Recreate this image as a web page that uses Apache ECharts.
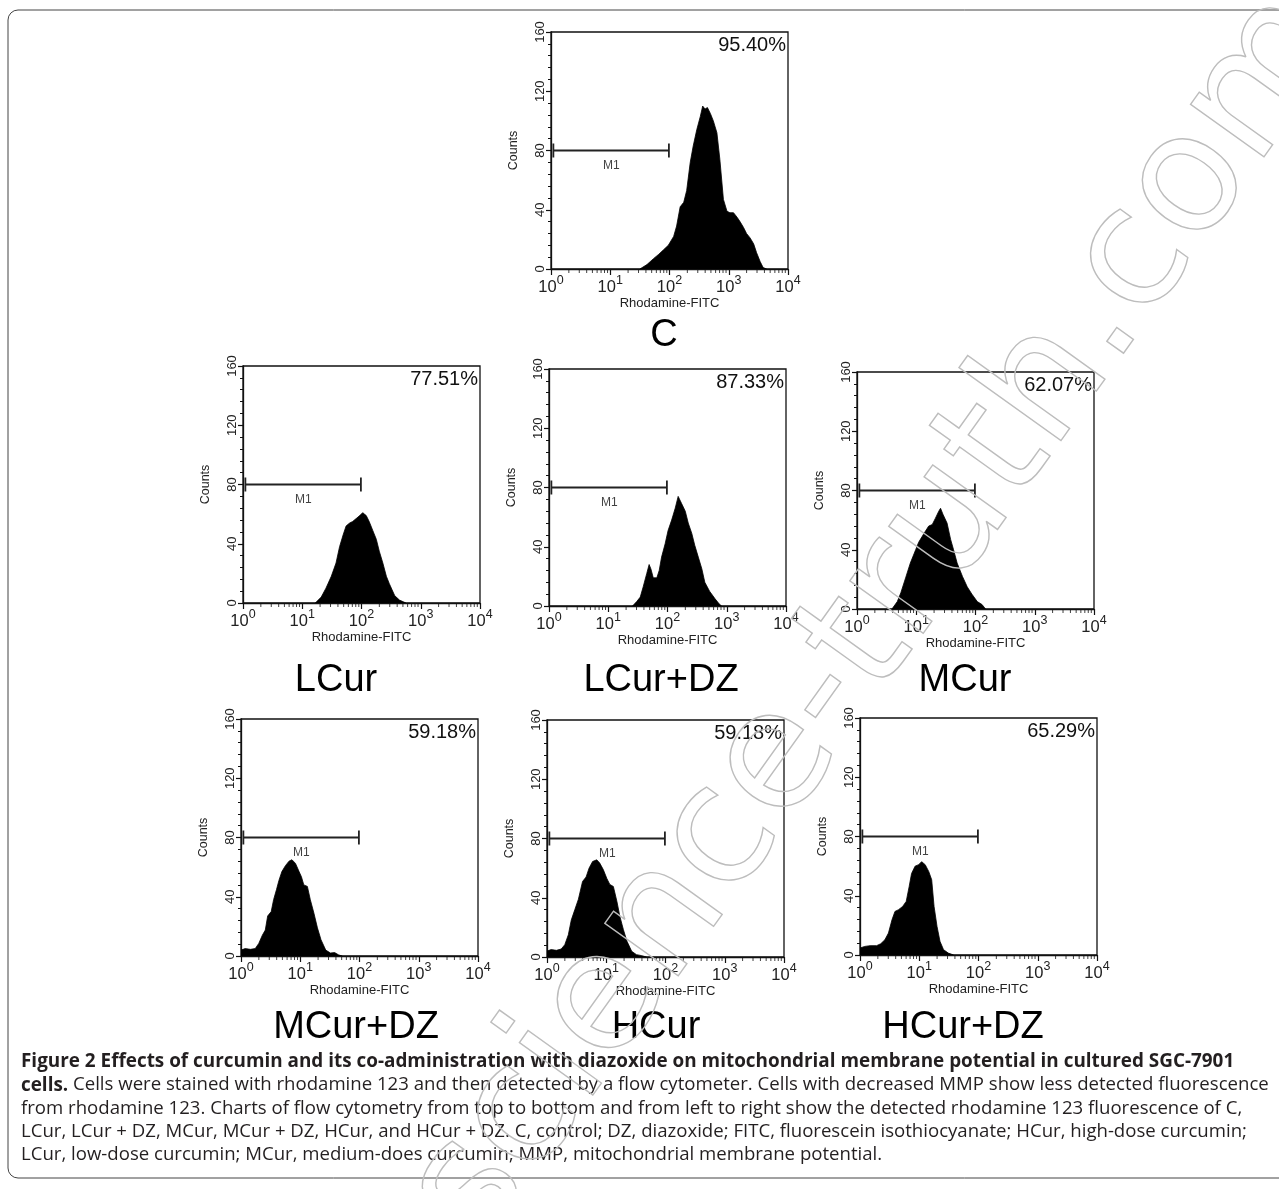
<!DOCTYPE html>
<html>
<head>
<meta charset="utf-8">
<title>Figure 2 - rhodamine 123 flow cytometry</title>
<script src="https://cdn.jsdelivr.net/npm/echarts@6/dist/echarts.min.js"></script>
<style>
html, body { margin: 0; padding: 0; background: #fff; }
#main { width: 1279px; height: 1189px; }
</style>
</head>
<body>
<div id="main"></div>
<script>
/************
 * Figure 2 : 7 x 流式直方图 (Rhodamine-FITC)
 * x = 荧光强度, 按 decade (log10) 读出, 0..4 => 10^0 .. 10^4
 * y = Counts
 * ************/

// panel names + M1 percent
var panelNames   = ["C", "LCur", "LCur+DZ", "MCur", "MCur+DZ", "HCur", "HCur+DZ"];
var panelPercent = ["95.40%", "77.51%", "87.33%", "62.07%", "59.18%", "59.18%", "65.29%"];

// histogram outlines, x in decades (log10 of intensity)
var C_logX      = [1.50,1.62,1.73,1.82,1.90,1.98,2.07,2.12,2.18,2.24,2.29,2.35,2.40,2.46,2.52,2.56,2.60,2.64,2.69,2.74,2.80,2.85,2.91,2.97,3.02,3.08,3.14,3.19,3.25,3.30,3.36,3.42,3.47,3.53,3.58,3.64];
var C_counts    = [0,3,7,10,13,16,22,29,42,45,53,72,83,94,103,110,108,109,105,100,92,74,47,39,38,38,35,32,28,24,21,17,11,5,1,0];

var LCur_logX   = [1.22,1.32,1.40,1.49,1.57,1.63,1.69,1.74,1.80,1.85,1.91,1.97,2.02,2.08,2.13,2.19,2.25,2.30,2.36,2.42,2.47,2.56,2.64,2.75];
var LCur_counts = [0,4,10,18,27,38,46,52,54,55,57,59,61,59,55,49,43,35,27,18,13,5,2,0];

var LCurDZ_logX   = [1.41,1.48,1.54,1.59,1.65,1.69,1.72,1.76,1.82,1.86,1.90,1.96,2.01,2.07,2.13,2.18,2.24,2.30,2.35,2.41,2.46,2.52,2.58,2.63,2.71,2.80,2.86,2.91];
var LCurDZ_counts = [0,3,6,13,22,28,25,19,19,24,33,42,51,58,66,74,69,64,56,49,41,33,25,16,10,5,2,0];

var MCur_logX   = [0.59,0.68,0.74,0.82,0.90,0.99,1.04,1.13,1.21,1.27,1.32,1.38,1.41,1.45,1.52,1.58,1.63,1.69,1.78,1.86,1.94,2.03,2.11,2.17];
var MCur_counts = [0,5,11,21,31,40,45,51,56,57,61,66,68,64,58,47,40,31,22,15,10,5,3,0];

var MCurDZ_logX   = [0.00,0.07,0.16,0.24,0.30,0.36,0.41,0.45,0.51,0.55,0.60,0.64,0.69,0.75,0.81,0.86,0.92,0.98,1.02,1.06,1.12,1.17,1.23,1.29,1.35,1.43,1.51,1.58,1.65,1.71];
var MCurDZ_counts = [4,5,4.5,5,8.5,14,17.5,27,30,38,45,51,57,61,64,65,62.5,57,53.5,48,47,38,29,19,11,4,2,2.3,0.7,0];

var HCur_logX   = [0.00,0.07,0.16,0.24,0.30,0.36,0.41,0.47,0.53,0.60,0.66,0.71,0.77,0.84,0.89,0.95,1.01,1.06,1.12,1.18,1.23,1.29,1.35,1.43,1.51,1.60,1.68];
var HCur_counts = [4,5,4.5,5.4,8.3,15,25,32,39,51,54,60,64.5,65.6,63.4,59,53,49,47.6,37.5,27.4,18.4,10.6,3.8,1.6,0.9,0];

var HCurDZ_logX   = [0.00,0.08,0.17,0.28,0.35,0.42,0.48,0.54,0.59,0.65,0.72,0.78,0.83,0.87,0.93,0.99,1.04,1.10,1.16,1.21,1.25,1.30,1.35,1.41,1.49,1.58];
var HCurDZ_counts = [4.7,5.8,6.3,6.3,7.6,10.3,14.8,23.8,29.4,30.6,32.8,36.2,46.3,55,60,61,63,61,56.4,50.8,32.8,19.3,9.2,3.6,1.3,0];

var panelLogX   = [C_logX, LCur_logX, LCurDZ_logX, MCur_logX, MCurDZ_logX, HCur_logX, HCurDZ_logX];
var panelCounts = [C_counts, LCur_counts, LCurDZ_counts, MCur_counts, MCurDZ_counts, HCur_counts, HCurDZ_counts];

// M1 gate (decades) and its level
var gateRange  = [0.04, 1.99];
var gateLevel  = 80;
var gateLabelX = 1.02;
var gateLabelY = 70;

// axis ticks
var yTicks    = [0, 40, 80, 120, 160];
var xDecades  = [0, 1, 2, 3, 4];
var minorMult = [2, 3, 4, 5, 6, 7, 8, 9];   // 对数轴次刻度

/****** layout (px) ******/
var plotW = 237, plotH = 237;
var panelBox = [[551, 32], [243, 366], [549, 369], [857, 372], [241, 719], [547, 720], [860, 718]];
var nameBox  = [[664, 336], [336, 681], [661, 681], [965, 681], [356, 1028], [656, 1028], [963, 1028]];

var FONT = "'Liberation Sans', Arial, Helvetica, sans-serif";

var grids = [], xAxes = [], yAxes = [], series = [], graphics = [];

// log minor tick positions (in decades)
var minorX = [];
for (var d = 0; d < xDecades.length - 1; d++) {
	for (var m = 0; m < minorMult.length; m++) {
		minorX.push([xDecades[d] + Math.log(minorMult[m]) / Math.LN10, 0]);
	}
}

for (var i = 0; i < panelNames.length; i++) {
	var boxL = panelBox[i][0], boxT = panelBox[i][1];   // 注意: 不能用全局 var top

	grids.push({
		left: boxL, top: boxT, width: plotW, height: plotH,
		show: true, borderColor: "#111", borderWidth: 1.3, backgroundColor: "transparent"
	});

	xAxes.push({
		gridIndex: i, type: "value",
		min: xDecades[0], max: xDecades[xDecades.length - 1], interval: 1,
		name: "Rhodamine-FITC", nameLocation: "middle", nameGap: 24,
		nameTextStyle: { fontFamily: FONT, fontSize: 13, color: "#222" },
		axisLine: { show: true, onZero: false, lineStyle: { color: "#111", width: 1.3 } },
		axisTick: { show: true, length: 6, lineStyle: { color: "#111", width: 1.2 } },
		splitLine: { show: false },
		axisLabel: {
			show: true, margin: 5, showMinLabel: true, showMaxLabel: true,
			formatter: function (v) {
				return "{b|10}{s|" + Math.round(v) + "}";
			},
			rich: {
				b: { fontFamily: FONT, fontSize: 16.5, color: "#222", lineHeight: 22, verticalAlign: "bottom" },
				s: { fontFamily: FONT, fontSize: 12.5, color: "#222", lineHeight: 22, verticalAlign: "top" }
			}
		}
	});

	yAxes.push({
		gridIndex: i, type: "value",
		min: yTicks[0], max: yTicks[yTicks.length - 1], interval: yTicks[1] - yTicks[0],
		name: "Counts", nameLocation: "middle", nameGap: 31, nameRotate: 90,
		nameTextStyle: { fontFamily: FONT, fontSize: 12.5, color: "#222" },
		axisLine: { show: true, lineStyle: { color: "#111", width: 1.3 } },
		axisTick: { show: true, length: 5, lineStyle: { color: "#111", width: 1.2 } },
		minorTick: { show: true, splitNumber: 5, length: 3, lineStyle: { color: "#111", width: 1 } },
		splitLine: { show: false },
		minorSplitLine: { show: false },
		axisLabel: { show: true, rotate: 90, margin: 4, fontFamily: FONT, fontSize: 13, color: "#222" }
	});

	// 直方图
	var hist = [];
	for (var k = 0; k < panelLogX[i].length; k++) {
		hist.push([panelLogX[i][k], panelCounts[i][k]]);
	}
	series.push({
		type: "line", xAxisIndex: i, yAxisIndex: i, data: hist,
		showSymbol: false, smooth: false, silent: true, z: 3,
		lineStyle: { color: "#000", width: 0.8 },
		areaStyle: { color: "#000", opacity: 1 }
	});

	// x minor ticks
	series.push({
		type: "scatter", xAxisIndex: i, yAxisIndex: i, data: minorX,
		symbol: "rect", symbolSize: [1, 4], symbolOffset: [0, 2], silent: true, z: 2,
		itemStyle: { color: "#111" }
	});

	// M1 gate bar
	series.push({
		type: "line", xAxisIndex: i, yAxisIndex: i,
		data: [[gateRange[0], gateLevel], [gateRange[1], gateLevel]],
		symbol: "rect", symbolSize: [1.8, 14], showSymbol: true, silent: true, z: 4,
		itemStyle: { color: "#222" },
		lineStyle: { color: "#222", width: 1.8 }
	});

	// M1 text
	series.push({
		type: "scatter", xAxisIndex: i, yAxisIndex: i,
		data: [[gateLabelX, gateLabelY]],
		symbolSize: 1, silent: true, z: 5,
		itemStyle: { color: "rgba(0,0,0,0)" },
		label: { show: true, position: "inside", formatter: "M1", fontFamily: FONT, fontSize: 12, color: "#111" }
	});

	// percent (top right in box)
	graphics.push({
		type: "text", x: boxL + plotW - 2, y: boxT + 3, z: 10,
		style: { text: panelPercent[i], fontFamily: FONT, fontSize: 20, fill: "#111", align: "right", verticalAlign: "top" }
	});

	// sample name
	graphics.push({
		type: "text", x: nameBox[i][0], y: nameBox[i][1], z: 10,
		style: { text: panelNames[i], fontFamily: FONT, fontSize: 38, fill: "#000", align: "center", verticalAlign: "middle" }
	});
}

/****** caption ******/
var captionLines = [
	"{b|Figure 2 Effects of curcumin and its co-administration with diazoxide on mitochondrial membrane potential in cultured SGC-7901}",
	"{b|cells.}{r| Cells were stained with rhodamine 123 and then detected by a flow cytometer. Cells with decreased MMP show less detected fluorescence}",
	"{r|from rhodamine 123. Charts of flow cytometry from top to bottom and from left to right show the detected rhodamine 123 fluorescence of C,}",
	"{r|LCur, LCur + DZ, MCur, MCur + DZ, HCur, and HCur + DZ. C, control; DZ, diazoxide; FITC, fluorescein isothiocyanate; HCur, high-dose curcumin;}",
	"{r|LCur, low-dose curcumin; MCur, medium-does curcumin; MMP, mitochondrial membrane potential.}"
];
var CAP_FONT = "'Open Sans', 'Noto Sans', Arial, sans-serif";
for (var j = 0; j < captionLines.length; j++) {
	graphics.push({
		type: "text", x: 21, y: 1062 + j * 23.2, z: 10,
		style: {
			text: captionLines[j], verticalAlign: "middle",
			rich: {
				b: { fontFamily: CAP_FONT, fontSize: 18.9, fontWeight: "bold", fill: "#231f20" },
				r: { fontFamily: CAP_FONT, fontSize: 18.6, fill: "#231f20" }
			}
		}
	});
}

// frame
graphics.push({
	type: "rect", z: 1, silent: true,
	shape: { x: 8, y: 10, width: 1300, height: 1168, r: 10 },
	style: { fill: "none", stroke: "#444", lineWidth: 1 }
});

// watermark
graphics.push({
	type: "text", x: 880, y: 620, rotation: 0.95, z: 20, silent: true,
	style: {
		text: "science-truth.com", fontFamily: "'DejaVu Sans', sans-serif", fontSize: 165,
		fill: "none", stroke: "#bdbdbd", lineWidth: 1.4, align: "center", verticalAlign: "middle"
	}
});

var chart = echarts.init(document.getElementById("main"), null, { renderer: "canvas" });
chart.setOption({
	animation: false,
	backgroundColor: "#fff",
	grid: grids,
	xAxis: xAxes,
	yAxis: yAxes,
	series: series,
	graphic: graphics
});
</script>
</body>
</html>
